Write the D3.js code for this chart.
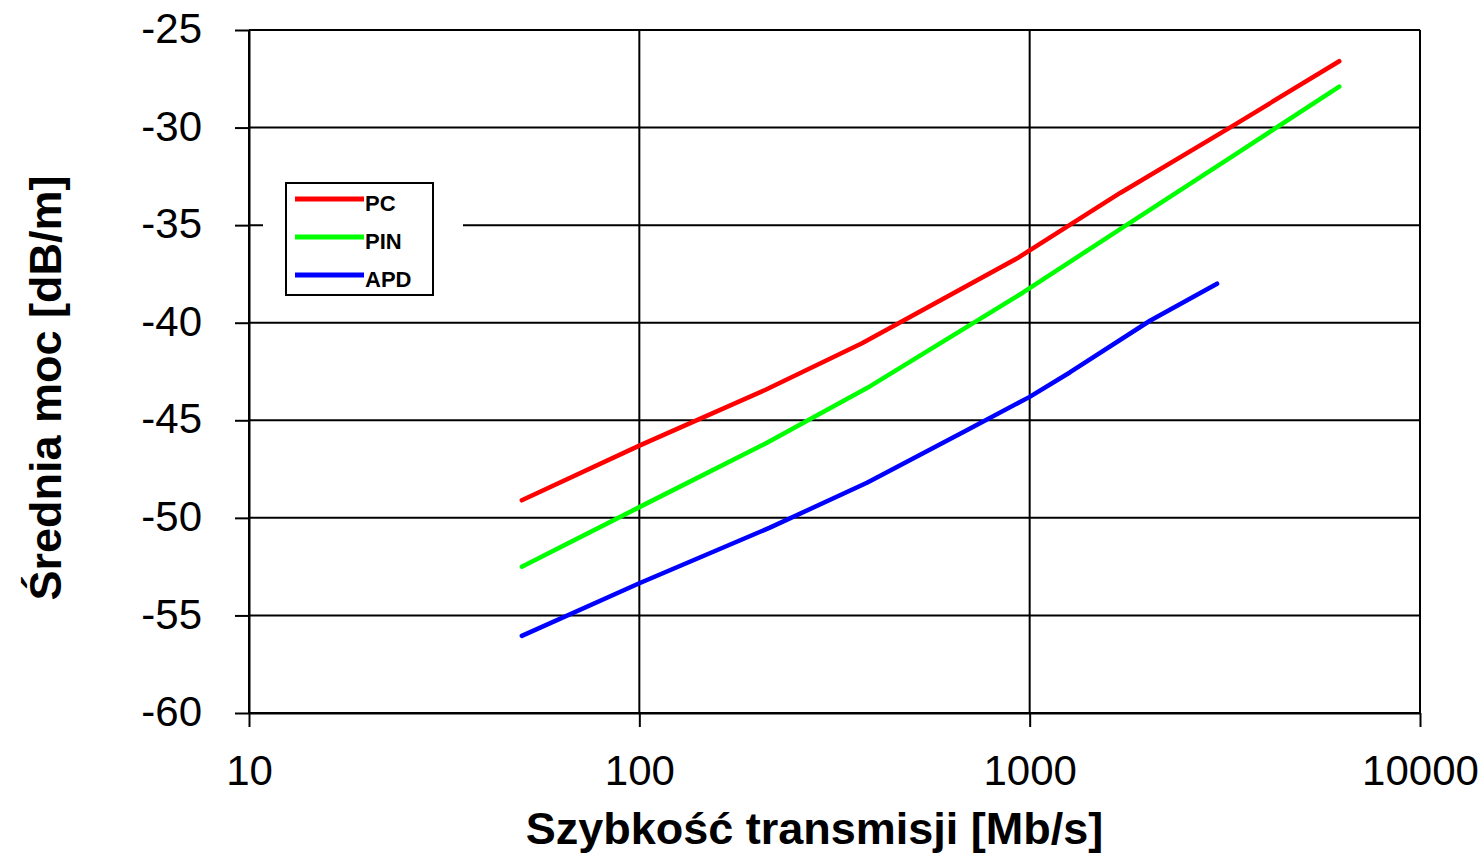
<!DOCTYPE html>
<html>
<head>
<meta charset="utf-8">
<script src="https://cdn.jsdelivr.net/npm/d3@7"></script>
<style>
  html, body { margin: 0; padding: 0; background: #fff; }
  svg { display: block; font-family: "Liberation Sans", Arial, sans-serif; }
</style>
</head>
<body>
<div id="chart"></div>
<script>
// Average power vs. bit rate, three receiver types (log x axis)

const xTicks = [10, 100, 1000, 10000];
const yTicks = [-60, -55, -50, -45, -40, -35, -30, -25];

const pcX  = [50, 100, 210, 372, 929, 1706, 3258, 6210];
const pcY  = [-49.1, -46.3, -43.45, -41.05, -36.7, -33.35, -30.0, -26.6];

const pinX = [50, 100, 210, 383, 962, 1706, 3320, 6210];
const pinY = [-52.5, -49.45, -46.2, -43.35, -38.45, -35.2, -31.45, -27.9];

const apdX = [50, 100, 216, 383, 692, 1000, 1267, 2033, 3020];
const apdY = [-56.05, -53.35, -50.5, -48.2, -45.5, -43.8, -42.55, -39.9, -38.0];

const series = [
    { name: 'PC',  color: '#ff0000', xs: pcX,  ys: pcY },
    { name: 'PIN', color: '#00ff00', xs: pinX, ys: pinY },
    { name: 'APD', color: '#0000ff', xs: apdX, ys: apdY },
];

const W = 1481, H = 858;
const plotL = 249, plotR = 1420, plotT = 30, plotB = 713;
const TICK = 14;

const svg = d3.select('#chart').append('svg')
    .attr('width', W).attr('height', H);

const x = d3.scaleLog().domain([10, 10000]).range([plotL, plotR]);
const y = d3.scaleLinear().domain([-60, -25]).range([plotB, plotT]);

// Grid lines
const grid = svg.append('g').attr('stroke', '#000').attr('stroke-width', 2);
grid.selectAll('line.h').data(yTicks).join('line')
    .attr('class', 'h')
    .attr('x1', plotL).attr('x2', plotR)
    .attr('y1', d => y(d)).attr('y2', d => y(d));
grid.selectAll('line.v').data(xTicks).join('line')
    .attr('class', 'v')
    .attr('y1', plotT).attr('y2', plotB)
    .attr('x1', d => x(d)).attr('x2', d => x(d));

// Axes (outward ticks), plain hyphen for negatives like the original
const plain = d => String(d);
const yAxis = svg.append('g')
    .attr('transform', `translate(${plotL},0)`)
    .call(d3.axisLeft(y).tickValues(yTicks).tickSize(TICK).tickSizeOuter(0).tickPadding(33)
        .tickFormat(plain));
const xAxis = svg.append('g')
    .attr('transform', `translate(0,${plotB})`)
    .call(d3.axisBottom(x).tickValues(xTicks).tickSize(TICK).tickSizeOuter(0).tickPadding(28)
        .tickFormat(plain));

for (const ax of [xAxis, yAxis]) {
    ax.select('.domain').attr('stroke', '#000').attr('stroke-width', 2);
    ax.selectAll('.tick line').attr('stroke', '#000').attr('stroke-width', 2);
    ax.selectAll('.tick text')
        .attr('fill', '#000')
        .style('font-family', '"Liberation Sans", Arial, sans-serif')
        .style('font-size', '42px');
}
yAxis.selectAll('.tick text').attr('dy', '0.3em');

// White area behind the legend covers the gridline
svg.append('rect')
    .attr('x', 263).attr('y', 176)
    .attr('width', 200).attr('height', 126)
    .attr('fill', '#fff');

// Series
const line = d3.line()
    .x(d => x(d[0]))
    .y(d => y(d[1]));

svg.append('g').selectAll('path').data(series).join('path')
    .attr('d', s => line(s.xs.map((v, i) => [v, s.ys[i]])))
    .attr('fill', 'none')
    .attr('stroke', s => s.color)
    .attr('stroke-width', 4.5)
    .attr('stroke-linejoin', 'round')
    .attr('stroke-linecap', 'round');

// Legend
const legend = svg.append('g').attr('transform', 'translate(286,183)');
legend.append('rect')
    .attr('width', 147).attr('height', 112)
    .attr('fill', '#fff').attr('stroke', '#000').attr('stroke-width', 2);
const items = legend.selectAll('g').data(series).join('g')
    .attr('transform', (d, i) => `translate(0,${16 + i * 38})`);
items.append('line')
    .attr('x1', 9).attr('x2', 78)
    .attr('stroke', d => d.color).attr('stroke-width', 5);
items.append('text')
    .attr('x', 79).attr('y', 12)
    .attr('font-size', '22px').attr('font-weight', 'bold')
    .text(d => d.name);

// Axis titles
svg.append('text')
    .attr('x', (plotL + plotR) / 2 - 20).attr('y', 844)
    .attr('text-anchor', 'middle')
    .attr('font-size', '45px').attr('font-weight', 'bold')
    .text('Szybkość transmisji [Mb/s]');

svg.append('text')
    .attr('transform', 'translate(61,388) rotate(-90)')
    .attr('text-anchor', 'middle')
    .attr('font-size', '45px').attr('font-weight', 'bold')
    .text('Średnia moc [dB/m]');
</script>
</body>
</html>
